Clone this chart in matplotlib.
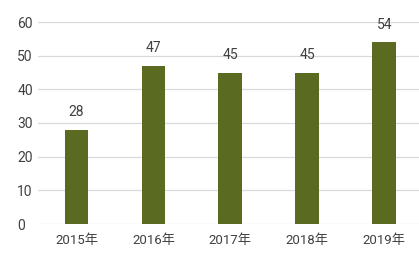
import matplotlib.pyplot as plt

plt.rcParams['font.family'] = ['Roboto', 'Noto Sans CJK SC', 'DejaVu Sans']

years = ["2015年", "2016年", "2017年", "2018年", "2019年"]
values = [28, 47, 45, 45, 54]
yticks = [0, 10, 20, 30, 40, 50, 60]

bar_color = "#5a6b21"
text_color = "#404040"
grid_color = "#d9d9d9"

fig = plt.figure(figsize=(4.19, 2.54), dpi=100)
ax = fig.add_axes([38 / 419, 30 / 254, 1 - 38 / 419, 202 / 254])

x = list(range(len(years)))
ax.bar(x, values, width=0.31, color=bar_color, zorder=3)

# value labels above each bar
for xi, v in zip(x, values):
    ax.annotate(str(v), (xi, v), xytext=(0, 7.5), textcoords="offset points",
                ha="center", va="bottom", fontsize=10, color=text_color)

ax.set_xlim(-0.5, 4.45)
ax.set_ylim(0, 60)
ax.set_yticks(yticks)
ax.set_xticks(x)
ax.set_xticklabels(years, family=['Roboto', 'Noto Sans CJK SC'], fontsize=9.5)
ax.grid(axis="y", color=grid_color, linewidth=0.9, zorder=0)
for s in ax.spines.values():
    s.set_visible(False)
ax.tick_params(axis="both", length=0, colors=text_color)
ax.tick_params(axis="y", labelsize=10, pad=15)
ax.tick_params(axis="x", pad=7)
for lab in ax.get_yticklabels():
    lab.set_ha("left")

fig.savefig("out.png", dpi=100)
